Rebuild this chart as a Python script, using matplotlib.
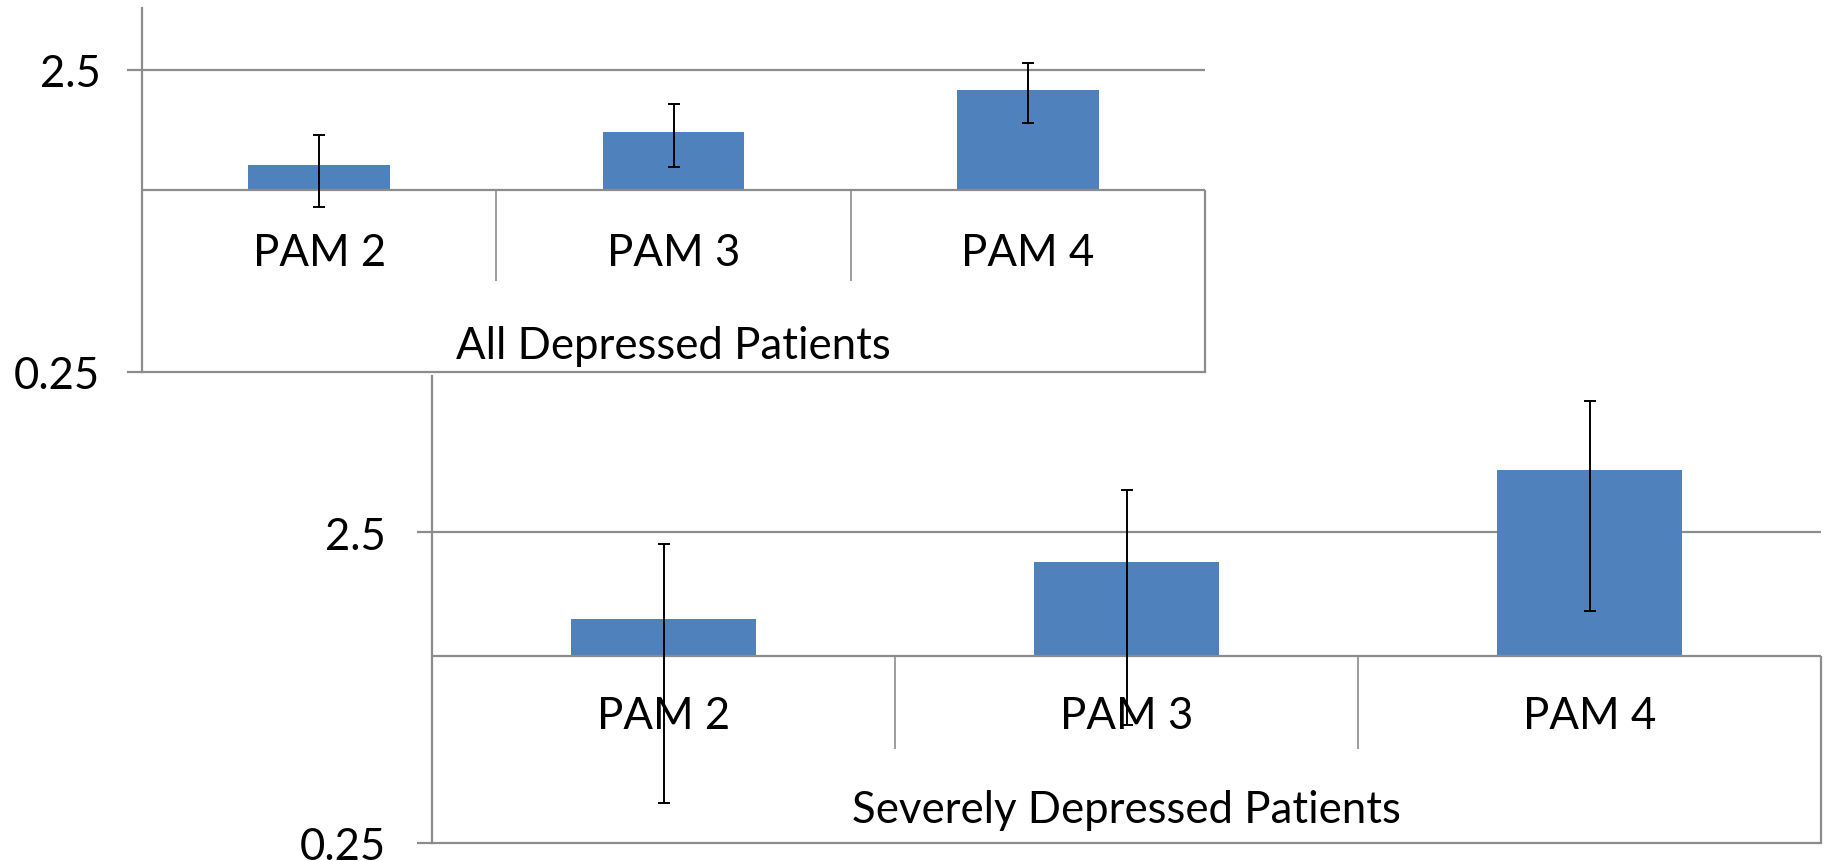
import matplotlib
matplotlib.use('Agg')
import matplotlib.pyplot as plt
from matplotlib.ticker import NullLocator, FixedLocator, FixedFormatter
import numpy as np

plt.rcParams['font.family'] = ['Lato', 'DejaVu Sans']

categories = ['PAM 2', 'PAM 3', 'PAM 4']
all_values = [1.21, 1.56, 2.15]
all_lower = [0.88, 1.19, 1.66]
all_upper = [1.52, 1.93, 2.64]
severe_values = [1.31, 2.01, 3.98]
severe_lower = [0.335, 0.60, 1.39]
severe_upper = [2.30, 3.42, 6.64]
tick_values = [0.25, 2.5]
tick_labels = ['0.25', '2.5']
group_titles = ['All Depressed Patients', 'Severely Depressed Patients']

BAR = '#4F81BD'
GRID = '#8C8C8C'
FS = 31.5

fig = plt.figure(figsize=(18.3, 8.62), dpi=100)


def draw_panel(rect, values, lower, upper, ymax, title, pad, label_y, title_y):
    ax = fig.add_axes(rect)
    ax.set_yscale('log')
    x = np.arange(len(categories))
    v = np.array(values)
    lo = np.array(lower)
    hi = np.array(upper)
    ax.bar(x, v - 1, bottom=1, width=0.4, color=BAR, zorder=2)
    ax.errorbar(x, v, yerr=[v - lo, hi - v], fmt='none', ecolor='black',
                elinewidth=1.4, capsize=4.5, capthick=1.4, zorder=4)
    ax.set_xlim(-0.5, len(categories) - 0.5)
    ax.set_ylim(0.25, ymax)
    ax.yaxis.set_major_locator(FixedLocator(tick_values))
    ax.yaxis.set_major_formatter(FixedFormatter(tick_labels))
    ax.yaxis.set_minor_locator(NullLocator())
    ax.set_xticks([])
    ax.tick_params(axis='y', length=11, width=1.6, color=GRID, pad=pad,
                   labelsize=FS)
    for s in ['top', 'right']:
        ax.spines[s].set_visible(False)
    for s in ['left', 'bottom']:
        ax.spines[s].set_color(GRID)
        ax.spines[s].set_linewidth(1.6)
    ax.axhline(2.5, color=GRID, lw=1.6, zorder=1)
    ax.axhline(1, color=GRID, lw=1.6, zorder=3)
    ax.vlines([i + 0.5 for i in range(len(categories) - 1)], 0.5, 1,
              color=GRID, lw=1.2, zorder=3)
    ax.vlines(len(categories) - 0.5, 0.25, 1, color=GRID, lw=1.6,
              zorder=3, clip_on=False)
    for i, c in enumerate(categories):
        ax.text(i, label_y, c, ha='center', va='center', fontsize=FS,
                zorder=3)
    ax.text((len(categories) - 1) / 2, title_y, title, ha='center',
            va='center', fontsize=FS, zorder=3)
    ax.patch.set_alpha(0)
    return ax


draw_panel([142 / 1830, (862 - 373) / 862, (1205 - 142) / 1830, (373 - 9) / 862],
           all_values, all_lower, all_upper, 4, group_titles[0], 19, 0.62, 0.305)
draw_panel([432 / 1830, (862 - 843.7) / 862, (1821 - 432) / 1830, (843.7 - 376.5) / 862],
           severe_values, severe_lower, severe_upper, 8, group_titles[1], 22, 0.64, 0.321)

fig.savefig('out.png', dpi=100)
